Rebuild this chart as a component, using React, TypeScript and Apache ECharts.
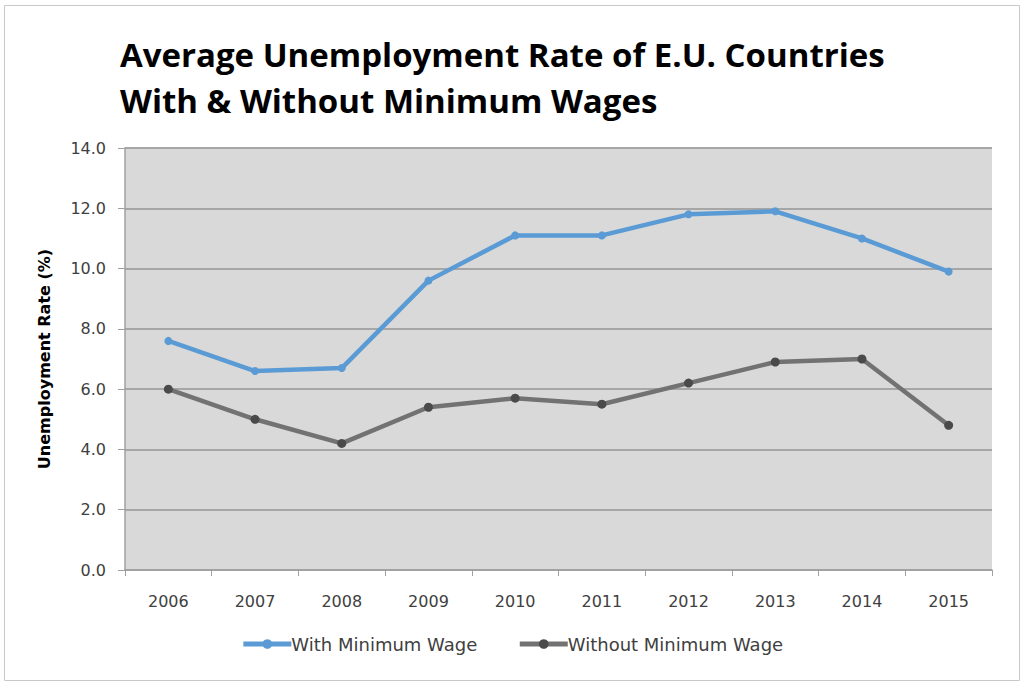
import React, { useEffect, useRef } from "react";
import * as echarts from "echarts";

const years = ["2006", "2007", "2008", "2009", "2010", "2011", "2012", "2013", "2014", "2015"];
const withMinWage = [7.6, 6.6, 6.7, 9.6, 11.1, 11.1, 11.8, 11.9, 11.0, 9.9];
const withoutMinWage = [6.0, 5.0, 4.2, 5.4, 5.7, 5.5, 6.2, 6.9, 7.0, 4.8];
const titleLines = ["Average Unemployment Rate of E.U. Countries", "With & Without Minimum Wages"];

export default function App() {
  const ref = useRef<HTMLDivElement>(null);
  useEffect(() => {
    if (!ref.current) return;
    const chart = echarts.init(ref.current, null, { renderer: "svg" });
    chart.setOption({
      animation: false,
      backgroundColor: "#ffffff",
      title: {
        text: titleLines.join("\n"),
        left: 115,
        top: 26,
        textStyle: {
          fontFamily: "Open Sans",
          fontWeight: "bold",
          fontSize: 33,
          lineHeight: 46,
          color: "#000000",
        },
      },
      graphic: [
        {
          type: "rect",
          shape: { x: 4.5, y: 5.5, width: 1015, height: 675 },
          style: { fill: "none", stroke: "#c8c8c8", lineWidth: 1 },
          silent: true,
        },
      ],
      legend: {
        bottom: 27,
        left: "center",
        itemWidth: 48,
        itemHeight: 12,
        itemGap: 40,
        lineStyle: { width: 5 },
        textStyle: { fontFamily: "DejaVu Sans", fontSize: 18, color: "#404040", padding: [0, 0, 0, -5] },
        data: ["With Minimum Wage", "Without Minimum Wage"],
      },
      grid: { left: 125, right: 32, top: 148, bottom: 115, backgroundColor: "#d9d9d9", show: true, borderWidth: 0 },
      xAxis: {
        type: "category",
        data: years,
        boundaryGap: true,
        axisLine: { show: true, lineStyle: { color: "#a0a0a0", width: 1.5 } },
        axisTick: { show: true, length: 6, inside: false, lineStyle: { color: "#a0a0a0" } },
        axisLabel: { fontFamily: "DejaVu Sans", fontSize: 16, color: "#404040", margin: 23 },
      },
      yAxis: {
        type: "value",
        min: 0,
        max: 14,
        interval: 2,
        name: "Unemployment Rate (%)",
        nameLocation: "middle",
        nameGap: 73,
        nameTextStyle: { fontFamily: "DejaVu Sans", fontWeight: "bold", fontSize: 16, color: "#000000" },
        axisLine: { show: true, lineStyle: { color: "#a0a0a0", width: 1.5 } },
        axisTick: { show: true, length: 7, inside: false, lineStyle: { color: "#a0a0a0" } },
        axisLabel: {
          fontFamily: "DejaVu Sans",
          fontSize: 16,
          color: "#404040",
          margin: 19,
          formatter: (v: number) => v.toFixed(1),
        },
        splitLine: { show: true, lineStyle: { color: "#a6a6a6", width: 2 } },
      },
      series: [
        {
          name: "With Minimum Wage",
          type: "line",
          data: withMinWage,
          symbol: "circle",
          symbolSize: 8,
          lineStyle: { color: "#5b9bd5", width: 4.5 },
          itemStyle: { color: "#5b9bd5" },
        },
        {
          name: "Without Minimum Wage",
          type: "line",
          data: withoutMinWage,
          symbol: "circle",
          symbolSize: 9,
          lineStyle: { color: "#727272", width: 4.5 },
          itemStyle: { color: "#4a4a4a" },
        },
      ],
    });
    return () => chart.dispose();
  }, []);
  return (
    <div
      ref={ref}
      style={{ position: "fixed", left: 0, top: 0, width: 1024, height: 685 }}
    />
  );
}
